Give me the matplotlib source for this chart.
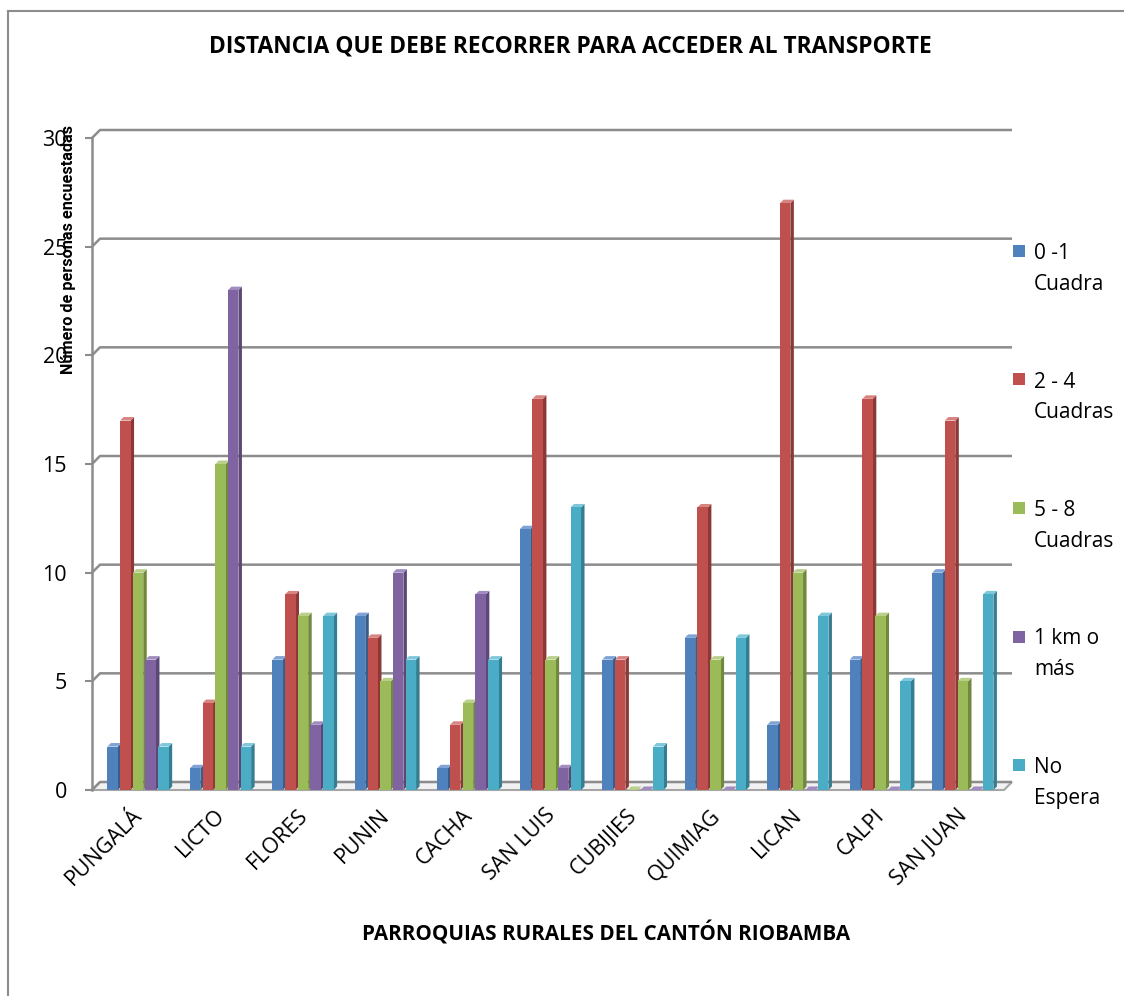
import matplotlib
matplotlib.use("Agg")
import matplotlib.pyplot as plt
from matplotlib.patches import Polygon, Rectangle
from matplotlib.lines import Line2D
import matplotlib.transforms as mtransforms
import numpy as np

plt.rcParams['font.family'] = ['Open Sans', 'DejaVu Sans']

# ---- data ----
parroquias = ["PUNGALÁ", "LICTO", "FLORES", "PUNIN", "CACHA", "SAN LUIS",
              "CUBIJIES", "QUIMIAG", "LICAN", "CALPI", "SAN JUAN"]
series_labels = ["0 -1\nCuadra", "2 - 4\nCuadras", "5 - 8\nCuadras",
                 "1 km o\nmás", "No\nEspera"]
cuadra_0_1 = [2, 1, 6, 8, 1, 12, 6, 7, 3, 6, 10]
cuadras_2_4 = [17, 4, 9, 7, 3, 18, 6, 13, 27, 18, 17]
cuadras_5_8 = [10, 15, 8, 5, 4, 6, 0, 6, 10, 8, 5]
km_1_mas = [6, 23, 3, 10, 9, 1, 0, 0, 0, 0, 0]
no_espera = [2, 2, 8, 6, 6, 13, 2, 7, 8, 5, 9]
series_values = [cuadra_0_1, cuadras_2_4, cuadras_5_8, km_1_mas, no_espera]
y_ticks = [0, 5, 10, 15, 20, 25, 30]

front_colors = ["#4F81BD", "#C0504D", "#9BBB59", "#8064A2", "#4BACC6"]
side_colors = ["#385D8A", "#8C3836", "#71893F", "#5C4776", "#357D91"]
top_colors = ["#7FA3D4", "#D88481", "#B9D08A", "#A08CC0", "#7FC7DA"]

W, H = 1124, 996
fig = plt.figure(figsize=(W / 100, H / 100), dpi=100)


def fx(px):
    return px / W


def fy(py):
    return 1 - py / H


ax_left, ax_right, ax_top, ax_bottom = 92, 1004, 138, 790
ax = fig.add_axes([fx(ax_left), fy(ax_bottom), fx(ax_right - ax_left),
                   (ax_bottom - ax_top) / H])
xmin, xmax = -0.558, 10.50
ymin, ymax = 0, 30
ax.set_xlim(xmin, xmax)
ax.set_ylim(ymin, ymax)

px_x = (ax_right - ax_left) / (xmax - xmin)
px_y = (ax_bottom - ax_top) / (ymax - ymin)

# depth of the back wall and of each column, in pixels
wall_dx, wall_dy = 8 / px_x, 8 / px_y
bar_dx, bar_dy = 3.5 / px_x, 3.5 / px_y

grid_col = "#8C8C8C"

# floor
floor = Polygon([(xmin, 0), (xmax, 0), (xmax + wall_dx, wall_dy), (xmin + wall_dx, wall_dy)],
                closed=True, facecolor="#F2F2F2", edgecolor="#A6A6A6", lw=1.5,
                zorder=1, clip_on=False)
ax.add_patch(floor)

# back-wall gridlines with the short connector to the front axis
for v in y_ticks:
    ax.plot([xmin, xmin + wall_dx, xmax + wall_dx], [v, v + wall_dy, v + wall_dy],
            color=grid_col, lw=1.8, zorder=1.5, clip_on=False, solid_capstyle='butt')

# front vertical axis
ax.plot([xmin, xmin], [0, ymax], color=grid_col, lw=1.8, zorder=1.5, clip_on=False)

pitch = 0.154
bw = 0.127
x = np.arange(len(parroquias))

for j, vals in enumerate(series_values):
    left = x + (j - 2) * pitch - bw / 2
    z = 3 + j * 0.1
    ax.bar(left, vals, width=bw, align='edge', color=front_colors[j],
           edgecolor='none', zorder=z + 0.05)
    for xl, v in zip(left, vals):
        side = Polygon([(xl + bw, 0), (xl + bw + bar_dx, bar_dy),
                        (xl + bw + bar_dx, v + bar_dy), (xl + bw, v)],
                       closed=True, facecolor=side_colors[j], edgecolor='none', zorder=z)
        top = Polygon([(xl, v), (xl + bw, v), (xl + bw + bar_dx, v + bar_dy),
                       (xl + bar_dx, v + bar_dy)],
                      closed=True, facecolor=top_colors[j], edgecolor='none', zorder=z)
        ax.add_patch(side)
        ax.add_patch(top)

for s in ax.spines.values():
    s.set_visible(False)

ax.set_yticks(y_ticks)
ax.set_yticklabels([str(t) for t in y_ticks], fontsize=15.5)
ax.tick_params(axis='y', length=5, width=1.5, color=grid_col, pad=13)
ax.set_xticks(x)
ax.set_xticklabels(parroquias, fontsize=15.5, rotation=45, ha='right',
                   rotation_mode='anchor')
ax.tick_params(axis='x', length=0, pad=13)
shift = mtransforms.ScaledTranslation(-6 / 100, 3 / 100, fig.dpi_scale_trans)
for lbl in ax.get_xticklabels():
    lbl.set_transform(lbl.get_transform() + shift)

ax.set_ylabel("Número de personas encuestadas", fontsize=11.7, fontweight='bold',
              family=['Roboto', 'Open Sans'])
ax.yaxis.set_label_coords((76 - ax_left) / (ax_right - ax_left),
                          (ax_bottom - 250) / (ax_bottom - ax_top))

fig.text(fx(570), fy(47), "DISTANCIA QUE DEBE RECORRER PARA ACCEDER AL TRANSPORTE",
         fontsize=16.4, fontweight='bold', ha='center', va='center')
fig.text(fx(606), fy(933), "PARROQUIAS RURALES DEL CANTÓN RIOBAMBA",
         fontsize=14.9, fontweight='bold', ha='center', va='center')

# legend on the right: square beside the first line of each label
leg_y0, leg_step = 251, 128.5
for j, lab in enumerate(series_labels):
    yc = leg_y0 + j * leg_step
    fig.patches.append(Rectangle((fx(1013), fy(yc + 6)), 12 / W, 12 / H,
                                 transform=fig.transFigure, facecolor=front_colors[j],
                                 edgecolor='none'))
    fig.text(fx(1034), fy(yc - 8), lab, fontsize=15, ha='left', va='top',
             linespacing=1.6, transform=fig.transFigure)

# outer chart frame
fig.lines.append(Line2D([fx(8), fx(8)], [fy(11), 0], transform=fig.transFigure,
                        color="#8C8C8C", lw=1.5))
fig.lines.append(Line2D([fx(8), 1], [fy(11), fy(11)], transform=fig.transFigure,
                        color="#8C8C8C", lw=1.5))

fig.savefig("out.png", dpi=100)
